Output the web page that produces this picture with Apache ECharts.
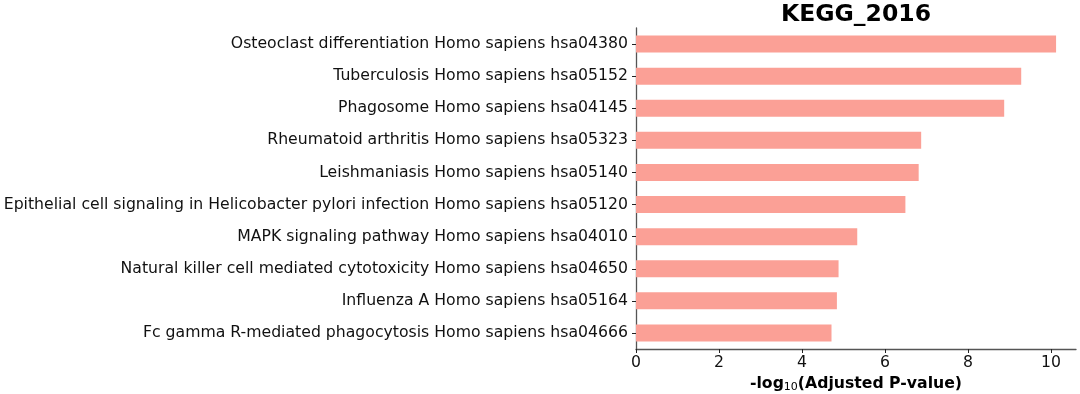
<!DOCTYPE html>
<html>
<head>
<meta charset="utf-8">
<script src="https://cdn.jsdelivr.net/npm/echarts@6/dist/echarts.min.js"></script>
<style>html,body{margin:0;padding:0;background:#fff;}#c{width:1080px;height:394px;}</style>
</head>
<body>
<div id="c"></div>
<script>
var categories = [
  "Osteoclast differentiation Homo sapiens hsa04380",
  "Tuberculosis Homo sapiens hsa05152",
  "Phagosome Homo sapiens hsa04145",
  "Rheumatoid arthritis Homo sapiens hsa05323",
  "Leishmaniasis Homo sapiens hsa05140",
  "Epithelial cell signaling in Helicobacter pylori infection Homo sapiens hsa05120",
  "MAPK signaling pathway Homo sapiens hsa04010",
  "Natural killer cell mediated cytotoxicity Homo sapiens hsa04650",
  "Influenza A Homo sapiens hsa05164",
  "Fc gamma R-mediated phagocytosis Homo sapiens hsa04666"
];
var values = [10.12, 9.28, 8.87, 6.87, 6.81, 6.49, 5.33, 4.88, 4.84, 4.71];
var xTicks = [0, 2, 4, 6, 8, 10];
var titleText = "KEGG_2016";

var font = "DejaVu Sans";
var chart = echarts.init(document.getElementById('c'), null, {renderer: 'canvas'});
chart.setOption({
  animation: false,
  backgroundColor: '#fff',
  title: {
    text: titleText,
    left: 856,
    textAlign: 'center',
    top: 3,
    padding: [0, 0, 0, 0],
    textStyle: {fontFamily: font, fontWeight: 'bold', fontSize: 23.5, color: '#000'}
  },
  grid: {left: 636, right: 4, top: 28, bottom: 45, containLabel: false, outerBoundsMode: 'none'},
  xAxis: {
    type: 'value',
    min: 0,
    max: 10.6,
    interval: 2,
    splitLine: {show: false},
    axisLine: {show: true, lineStyle: {color: '#555', width: 1.3}},
    axisTick: {show: true, length: 4, customValues: xTicks, lineStyle: {color: '#222', width: 1}},
    axisLabel: {customValues: xTicks, fontFamily: font, fontSize: 15.7, color: '#111', margin: 6},
    name: '{a|-log}{s|10}{a|(Adjusted P-value)}',
    nameLocation: 'middle',
    nameGap: 21,
    nameTextStyle: {
      rich: {
        a: {fontFamily: font, fontWeight: 'bold', fontSize: 15.7, color: '#000'},
        s: {fontFamily: font, fontSize: 11, color: '#000', padding: [7, 0, 0, 0]}
      }
    }
  },
  yAxis: {
    type: 'category',
    data: categories,
    inverse: true,
    axisLine: {show: true, lineStyle: {color: '#555', width: 1.3}},
    axisTick: {show: true, alignWithLabel: true, length: 4, lineStyle: {color: '#222', width: 1}},
    axisLabel: {fontFamily: font, fontSize: 15.7, color: '#111', margin: 8}
  },
  series: [{
    type: 'bar',
    data: values,
    barWidth: 17,
    itemStyle: {color: '#FBA096'}
  }]
});
</script>
</body>
</html>
